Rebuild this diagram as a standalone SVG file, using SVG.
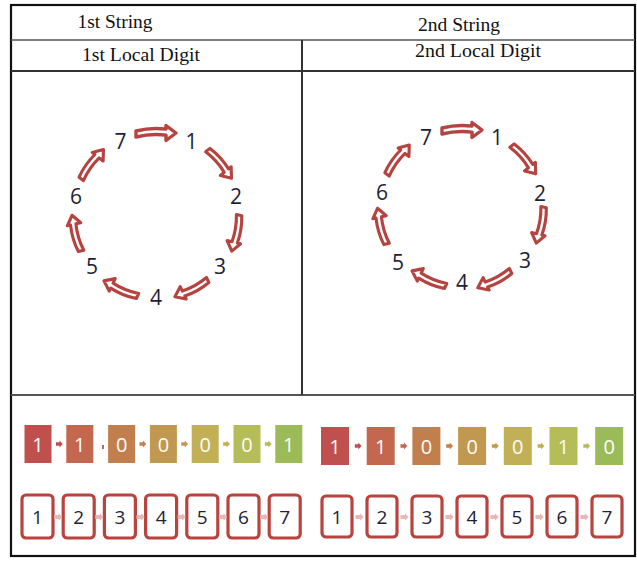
<svg xmlns="http://www.w3.org/2000/svg" xmlns:xlink="http://www.w3.org/1999/xlink" width="637" height="561" viewBox="0 0 637 561">
<style>
.hdr{font-family:"Liberation Serif","Times New Roman",serif;font-size:19px;fill:#111;text-anchor:middle}
.num{font-family:"Open Sans","Liberation Sans",sans-serif;font-size:21px;fill:#1e1e35;text-anchor:middle}
.bit{font-family:"Open Sans","Liberation Sans",sans-serif;font-size:20px;fill:#fbfbfb;text-anchor:middle}
.idx{font-family:"Open Sans","Liberation Sans",sans-serif;font-size:19px;fill:#1e1e35;text-anchor:middle}
.carr{fill:#fff;stroke:#b5433f;stroke-width:3.4;stroke-linejoin:round}
.nbox{fill:#fff;stroke:#b9433f;stroke-width:3.2}
.grid{stroke:#333;stroke-width:1.6;fill:none}
</style>
<defs>
<path id="ca" d="M -20 -3 Q -5 -6.8 10 -4.9 L 10 -8.5 L 20 -1 L 10 6.5 L 10 1.1 Q -5 -0.8 -20 3 Z"/>
<path id="sa" d="M -3 -1.8 L 0.5 -1.8 L 0.5 -3.4 L 3.8 0 L 0.5 3.4 L 0.5 1.8 L -3 1.8 Z"/>
<path id="pa" d="M -4 -2 L 0.5 -2 L 0.5 -3.8 L 4.2 0 L 0.5 3.8 L 0.5 2 L -4 2 Z"/>
</defs>

<g id="table">
<rect x="11" y="5" width="624" height="551" fill="#fff" stroke="#111" stroke-width="2.2"/>
<line class="grid" x1="11" y1="40" x2="635" y2="40" style="stroke:#555"/>
<line class="grid" x1="11" y1="71" x2="635" y2="71" style="stroke-width:2"/>
<line class="grid" x1="11" y1="395" x2="635" y2="395" style="stroke:#555;stroke-width:2"/>
<line class="grid" x1="302" y1="40" x2="302" y2="395" style="stroke-width:2"/>
<text class="hdr" x="115" y="28" textLength="75" lengthAdjust="spacingAndGlyphs">1st String</text>
<text class="hdr" x="459" y="31" textLength="82" lengthAdjust="spacingAndGlyphs">2nd String</text>
<text class="hdr" x="141" y="61" textLength="118" lengthAdjust="spacingAndGlyphs">1st Local Digit</text>
<text class="hdr" x="478" y="57" textLength="126" lengthAdjust="spacingAndGlyphs">2nd Local Digit</text>
</g>

<g id="cycle1-connectors">
<use href="#ca" class="carr" transform="translate(156,134) rotate(0)"/>
<use href="#ca" class="carr" transform="translate(219.3,164.5) rotate(51.43) scale(0.92)"/>
<use href="#ca" class="carr" transform="translate(235,233) rotate(102.86) scale(0.92)"/>
<use href="#ca" class="carr" transform="translate(191.1,288) rotate(154.29) scale(0.92)"/>
<use href="#ca" class="carr" transform="translate(120.9,288) rotate(205.71) scale(0.92)"/>
<use href="#ca" class="carr" transform="translate(77,233) rotate(257.14) scale(0.92)"/>
<use href="#ca" class="carr" transform="translate(92.7,164.5) rotate(308.57) scale(0.92)"/>
</g>
<g id="cycle1-nodes">
<text class="num" x="120.4" y="148.5">7</text>
<text class="num" x="191.6" y="148.5">1</text>
<text class="num" x="235.9" y="204.3">2</text>
<text class="num" x="220.1" y="273.6">3</text>
<text class="num" x="156" y="304.5">4</text>
<text class="num" x="91.9" y="273.6">5</text>
<text class="num" x="76.1" y="204.3">6</text>
</g>

<g id="cycle2-connectors">
<use href="#ca" class="carr" transform="translate(462,131) rotate(0)"/>
<use href="#ca" class="carr" transform="translate(523.5,160) rotate(51.43) scale(0.92)"/>
<use href="#ca" class="carr" transform="translate(539.5,225) rotate(102.86) scale(0.92)"/>
<use href="#ca" class="carr" transform="translate(494,279) rotate(154.29) scale(0.92)"/>
<use href="#ca" class="carr" transform="translate(429,278) rotate(205.71) scale(0.92)"/>
<use href="#ca" class="carr" transform="translate(382.5,226) rotate(257.14) scale(0.92)"/>
<use href="#ca" class="carr" transform="translate(398.5,160) rotate(308.57) scale(0.92)"/>
</g>
<g id="cycle2-nodes">
<text class="num" x="426" y="144.5">7</text>
<text class="num" x="497" y="144.5">1</text>
<text class="num" x="540" y="200.5">2</text>
<text class="num" x="525" y="267.5">3</text>
<text class="num" x="462" y="289.5">4</text>
<text class="num" x="398" y="269.5">5</text>
<text class="num" x="382" y="199.5">6</text>
</g>

<g id="bits1">
<rect x="24.5" y="425" width="27" height="38" fill="#c0504d"/>
<rect x="66.3" y="425" width="27" height="38" fill="#c3674f"/>
<rect x="108.1" y="425" width="27" height="38" fill="#c27f4e"/>
<rect x="149.9" y="425" width="27" height="38" fill="#c1984f"/>
<rect x="191.7" y="425" width="27" height="38" fill="#c2b057"/>
<rect x="233.5" y="425" width="27" height="38" fill="#b4bd58"/>
<rect x="275.3" y="425" width="27" height="38" fill="#9bbb59"/>
<text class="bit" x="38" y="451.5">1</text>
<text class="bit" x="79.8" y="451.5">1</text>
<text class="bit" x="121.6" y="451.5">0</text>
<text class="bit" x="163.4" y="451.5">0</text>
<text class="bit" x="205.2" y="451.5">0</text>
<text class="bit" x="247" y="451.5">0</text>
<text class="bit" x="288.8" y="451.5">1</text>
</g>
<g id="bits1-connectors">
<use href="#sa" fill="#c0504d" transform="translate(59,444)"/>
<rect x="102" y="445" width="2" height="4" fill="#c3674f"/>
<use href="#sa" fill="#c27f4e" transform="translate(142.5,444)"/>
<use href="#sa" fill="#c1984f" transform="translate(184.3,444)"/>
<use href="#sa" fill="#c2b057" transform="translate(226.1,444)"/>
<use href="#sa" fill="#b4bd58" transform="translate(267.9,444)"/>
</g>

<g id="bits2">
<rect x="321" y="427" width="28" height="38" fill="#c0504d"/>
<rect x="366.7" y="427" width="28" height="38" fill="#c3674f"/>
<rect x="412.4" y="427" width="28" height="38" fill="#c27f4e"/>
<rect x="458.1" y="427" width="28" height="38" fill="#c1984f"/>
<rect x="503.8" y="427" width="28" height="38" fill="#c2b057"/>
<rect x="549.5" y="427" width="28" height="38" fill="#b4bd58"/>
<rect x="595.2" y="427" width="28" height="38" fill="#9bbb59"/>
<text class="bit" x="335" y="453.5">1</text>
<text class="bit" x="380.7" y="453.5">1</text>
<text class="bit" x="426.4" y="453.5">0</text>
<text class="bit" x="472.1" y="453.5">0</text>
<text class="bit" x="517.8" y="453.5">0</text>
<text class="bit" x="563.5" y="453.5">1</text>
<text class="bit" x="609.2" y="453.5">0</text>
</g>
<g id="bits2-connectors">
<use href="#sa" fill="#c0504d" transform="translate(357.8,446)"/>
<use href="#sa" fill="#c3674f" transform="translate(403.5,446)"/>
<use href="#sa" fill="#c27f4e" transform="translate(449.2,446)"/>
<use href="#sa" fill="#c1984f" transform="translate(494.9,446)"/>
<use href="#sa" fill="#c2b057" transform="translate(540.6,446)"/>
<use href="#sa" fill="#b4bd58" transform="translate(586.3,446)"/>
</g>

<g id="index1">
<rect class="nbox" x="22" y="495" width="31" height="43" rx="4"/>
<rect class="nbox" x="63.2" y="495" width="31" height="43" rx="4"/>
<rect class="nbox" x="104.4" y="495" width="31" height="43" rx="4"/>
<rect class="nbox" x="145.6" y="495" width="31" height="43" rx="4"/>
<rect class="nbox" x="186.8" y="495" width="31" height="43" rx="4"/>
<rect class="nbox" x="228" y="495" width="31" height="43" rx="4"/>
<rect class="nbox" x="269.2" y="495" width="31" height="43" rx="4"/>
<text class="idx" x="37.5" y="523.5">1</text>
<text class="idx" x="78.7" y="523.5">2</text>
<text class="idx" x="119.9" y="523.5">3</text>
<text class="idx" x="161.1" y="523.5">4</text>
<text class="idx" x="202.3" y="523.5">5</text>
<text class="idx" x="243.5" y="523.5">6</text>
<text class="idx" x="284.7" y="523.5">7</text>
</g>
<g id="index1-connectors" fill="#e8b8b6">
<use href="#pa" transform="translate(58.1,517)"/>
<use href="#pa" transform="translate(99.3,517)"/>
<use href="#pa" transform="translate(140.5,517)"/>
<use href="#pa" transform="translate(181.7,517)"/>
<use href="#pa" transform="translate(222.9,517)"/>
<use href="#pa" transform="translate(264.1,517)"/>
</g>

<g id="index2">
<rect class="nbox" x="322" y="496" width="30" height="41" rx="4"/>
<rect class="nbox" x="367" y="496" width="30" height="41" rx="4"/>
<rect class="nbox" x="412" y="496" width="30" height="41" rx="4"/>
<rect class="nbox" x="457" y="496" width="30" height="41" rx="4"/>
<rect class="nbox" x="502" y="496" width="30" height="41" rx="4"/>
<rect class="nbox" x="547" y="496" width="30" height="41" rx="4"/>
<rect class="nbox" x="592" y="496" width="30" height="41" rx="4"/>
<text class="idx" x="337" y="523.5">1</text>
<text class="idx" x="382" y="523.5">2</text>
<text class="idx" x="427" y="523.5">3</text>
<text class="idx" x="472" y="523.5">4</text>
<text class="idx" x="517" y="523.5">5</text>
<text class="idx" x="562" y="523.5">6</text>
<text class="idx" x="607" y="523.5">7</text>
</g>
<g id="index2-connectors" fill="#e8b8b6">
<use href="#pa" transform="translate(359.5,517)"/>
<use href="#pa" transform="translate(404.5,517)"/>
<use href="#pa" transform="translate(449.5,517)"/>
<use href="#pa" transform="translate(494.5,517)"/>
<use href="#pa" transform="translate(539.5,517)"/>
<use href="#pa" transform="translate(584.5,517)"/>
</g>
</svg>
